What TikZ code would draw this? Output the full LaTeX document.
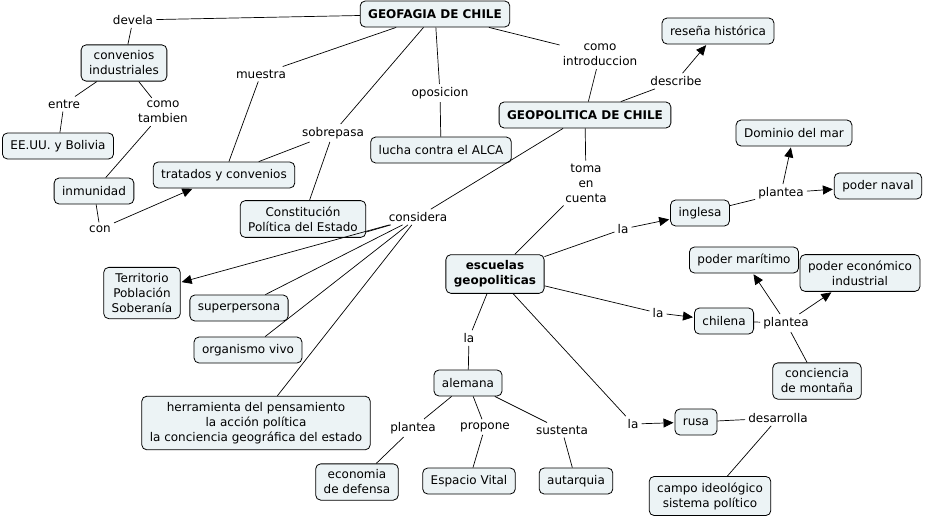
\documentclass[tikz,border=0pt]{standalone}
\usepackage{fontspec}
\setmainfont{DejaVu Sans}
\usetikzlibrary{arrows.meta}
\definecolor{conceptfill}{RGB}{236,243,245}

\begin{document}
\begin{tikzpicture}[
  x=1pt, y=-1pt,
  font=\fontsize{12}{15}\selectfont,
  concept/.style={draw,line width=0.8pt,rounded corners=5pt,fill=conceptfill,align=center,inner xsep=8pt,inner ysep=6pt,minimum height=26pt},
  mainconcept/.style={concept,font=\fontsize{12}{15}\selectfont\bfseries},
  link/.style={align=center,inner sep=3pt},
  line/.style={line width=0.7pt},
  to/.style={line,-{Triangle[length=10pt,width=9pt]},shorten >=1pt}]

  \useasboundingbox (0,0) rectangle (936,520);

  % Position the concepts
  \node[mainconcept] (geofagia) at (435,14) {GEOFAGIA DE CHILE};
  \node[mainconcept] (geopolitica) at (585,115) {GEOPOLITICA DE CHILE};
  \node[mainconcept] (escuelas) at (495,274) {escuelas\\geopoliticas};

  \node[concept] (resena) at (718,31) {reseña histórica};
  \node[concept] (convenios) at (124,63) {convenios\\industriales};
  \node[concept] (eeuu) at (58,146) {EE.UU. y Bolivia};
  \node[concept] (lucha) at (441,150) {lucha contra el ALCA};
  \node[concept] (tratados) at (224,175) {tratados y convenios};
  \node[concept] (inmunidad) at (94,191) {inmunidad};
  \node[concept] (constitucion) at (303,219) {Constitución\\Política del Estado};
  \node[concept] (territorio) at (142,293) {Territorio\\Población\\Soberanía};
  \node[concept] (superpersona) at (239,308) {superpersona};
  \node[concept] (organismo) at (248,350) {organismo vivo};
  \node[concept] (herramienta) at (256,423) {herramienta del pensamiento\\la acción política\\la conciencia geográfica del estado};

  \node[concept] (dominio) at (794,133) {Dominio del mar};
  \node[concept] (naval) at (878,186) {poder naval};
  \node[concept] (inglesa) at (700,213) {inglesa};
  \node[concept] (maritimo) at (744,260) {poder marítimo};
  \node[concept] (economico) at (860,273) {poder económico\\industrial};
  \node[concept] (chilena) at (724,321) {chilena};
  \node[concept] (montana) at (817,381) {conciencia\\de montaña};
  \node[concept] (alemana) at (468,383) {alemana};
  \node[concept] (rusa) at (696,422) {rusa};
  \node[concept] (economia) at (357,482) {economia\\de defensa};
  \node[concept] (espacio) at (469,481) {Espacio Vital};
  \node[concept] (autarquia) at (576,481) {autarquia};
  \node[concept] (campo) at (710,496) {campo ideológico\\sistema político};

  % Linking phrases
  \node[link] (devela) at (133,20) {devela};
  \node[link] (muestra) at (261,74) {muestra};
  \node[link] (introduccion) at (600,55) {como\\introduccion};
  \node[link] (describe) at (676,81) {describe};
  \node[link] (oposicion) at (440,93) {oposicion};
  \node[link] (sobrepasa) at (333,133) {sobrepasa};
  \node[link] (entre) at (64,104) {entre};
  \node[link] (tambien) at (163,112) {como\\tambien};
  \node[link] (con) at (100,229) {con};
  \node[link] (considera) at (418,217) {considera};
  \node[link] (toma) at (586,183) {toma\\en\\cuenta};
  \node[link] (laing) at (623,229) {la};
  \node[link] (planteaing) at (781,193) {plantea};
  \node[link] (lachi) at (658,313) {la};
  \node[link] (planteachi) at (786,323) {plantea};
  \node[link] (laale) at (469,338) {la};
  \node[link] (planteaale) at (413,428) {plantea};
  \node[link] (propone) at (485,427) {propone};
  \node[link] (sustenta) at (562,430) {sustenta};
  \node[link] (larus) at (633,424) {la};
  \node[link] (desarrolla) at (778,418) {desarrolla};

  % Draw the connectors
  \draw[line] (geofagia) -- (devela);
  \draw[line] (devela) -- (convenios);
  \draw[line] (convenios) -- (entre);
  \draw[line] (entre) -- (eeuu);
  \draw[line] (convenios) -- (tambien);
  \draw[line] (tambien) -- (inmunidad);
  \draw[line] (inmunidad) -- (con);
  \draw[to] (con) -- (tratados);

  \draw[line] (geofagia) -- (muestra);
  \draw[line] (muestra) -- (tratados);
  \draw[line] (geofagia) -- (sobrepasa);
  \draw[line] (sobrepasa) -- (tratados);
  \draw[line] (sobrepasa) -- (constitucion);
  \draw[line] (geofagia) -- (oposicion);
  \draw[line] (oposicion) -- (lucha);
  \draw[line] (geofagia) -- (introduccion);
  \draw[line] (introduccion) -- (geopolitica);
  \draw[line] (geopolitica) -- (describe);
  \draw[to] (describe) -- (resena);

  \draw[line] (geopolitica) -- (considera);
  \draw[line] (considera) -- ([yshift=-13pt]constitucion.east);
  \draw[to] (considera) -- (territorio);
  \draw[line] (considera) -- (superpersona);
  \draw[line] (considera) -- (organismo);
  \draw[line] (considera) -- (herramienta);

  \draw[line] (geopolitica) -- (toma);
  \draw[line] (toma) -- (escuelas);

  \draw[line] (escuelas) -- (laing);
  \draw[to] (laing) -- (inglesa);
  \draw[line] (inglesa) -- (planteaing);
  \draw[to] (planteaing) -- (dominio);
  \draw[to] (planteaing) -- (naval);

  \draw[line] (escuelas) -- (lachi);
  \draw[to] (lachi) -- (chilena);
  \draw[line] (chilena) -- (planteachi);
  \draw[to] (planteachi) -- (maritimo);
  \draw[to] (planteachi) -- (economico);
  \draw[line] (planteachi) -- (montana);

  \draw[line] (escuelas) -- (laale);
  \draw[line] (laale) -- (alemana);
  \draw[line] (alemana) -- (planteaale);
  \draw[line] (planteaale) -- (economia);
  \draw[line] (alemana) -- (propone);
  \draw[line] (propone) -- (espacio);
  \draw[line] (alemana) -- (sustenta);
  \draw[line] (sustenta) -- (autarquia);

  \draw[line] (escuelas) -- (larus);
  \draw[to] (larus) -- (rusa);
  \draw[line] (rusa) -- (desarrolla);
  \draw[line] (desarrolla) -- (campo);

\end{tikzpicture}
\end{document}
